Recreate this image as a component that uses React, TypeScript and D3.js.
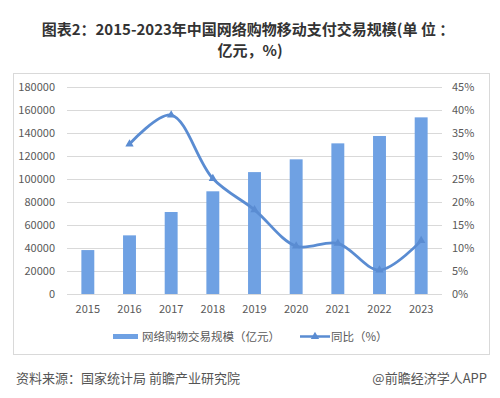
import React, { useEffect, useRef } from 'react';
import * as d3 from 'd3';

const years = ['2015', '2016', '2017', '2018', '2019', '2020', '2021', '2022', '2023'];
const scale = [38200, 51000, 71300, 89300, 106000, 117100, 131000, 137400, 153600];
const growth: (number | null)[] = [null, 32.6, 38.9, 25.1, 18.3, 10.4, 11.0, 5.2, 11.6];
const leftTicks = [0, 20000, 40000, 60000, 80000, 100000, 120000, 140000, 160000, 180000];
const rightTicks = [0, 5, 10, 15, 20, 25, 30, 35, 40, 45];

const FONT = '"Noto Sans CJK SC", "Noto Sans", sans-serif';
const BAR = '#6FA1E3';
const LINE = '#5A8CD2';
const TEXT = '#595959';

const App = () => {
  const svgRef = useRef<SVGSVGElement>(null);

  useEffect(() => {
    const svg = d3.select(svgRef.current);
    svg.selectAll('*').remove();

    const left = 67, right = 442, top = 87, bottom = 294;

    // 标题
    const title = svg.append('g').attr('font-family', FONT).attr('font-weight', 'bold')
      .attr('fill', '#333').attr('font-size', 15).attr('text-anchor', 'middle');
    title.append('text').attr('x', 248).attr('y', 35).text('图表2：2015-2023年中国网络购物移动支付交易规模(单 位 ：');
    title.append('text').attr('x', 250).attr('y', 56).text('亿元，%)');

    // 边框
    svg.append('rect').attr('x', 13.5).attr('y', 73.5).attr('width', 476).attr('height', 281)
      .attr('fill', 'white').attr('stroke', '#D9D9D9');

    const x = d3.scaleBand().domain(years).range([left, right]).paddingInner(0.69).paddingOuter(0.345);
    const yL = d3.scaleLinear().domain([0, 180000]).range([bottom, top]);
    const yR = d3.scaleLinear().domain([0, 45]).range([bottom, top]);

    // 网格线
    svg.append('g').selectAll('line').data(leftTicks).enter().append('line')
      .attr('x1', left).attr('x2', right)
      .attr('y1', d => Math.round(yL(d)) + 0.5).attr('y2', d => Math.round(yL(d)) + 0.5)
      .attr('stroke', '#D9D9D9').attr('stroke-width', 1);

    const labels = svg.append('g').attr('font-family', FONT).attr('font-size', 11).attr('fill', TEXT);

    labels.selectAll('.yl').data(leftTicks).enter().append('text')
      .attr('x', 55).attr('y', d => yL(d)).attr('dy', '0.35em').attr('text-anchor', 'end')
      .text(d => d);

    labels.selectAll('.yr').data(rightTicks).enter().append('text')
      .attr('x', 452).attr('y', d => yR(d)).attr('dy', '0.35em').attr('text-anchor', 'start')
      .text(d => `${d}%`);

    labels.selectAll('.xl').data(years).enter().append('text')
      .attr('x', d => x(d)! + x.bandwidth() / 2).attr('y', 313).attr('text-anchor', 'middle')
      .text(d => d);

    // 柱
    svg.append('g').selectAll('rect').data(years).enter().append('rect')
      .attr('x', d => x(d)!).attr('width', x.bandwidth())
      .attr('y', (d, i) => yL(scale[i])).attr('height', (d, i) => bottom - yL(scale[i]))
      .attr('fill', BAR);

    // 折线
    const pts = years.map((d, i) => ({ x: x(d)! + x.bandwidth() / 2, v: growth[i] }))
      .filter(p => p.v !== null) as { x: number; v: number }[];

    const line = d3.line<{ x: number; v: number }>()
      .x(p => p.x).y(p => yR(p.v)).curve(d3.curveCatmullRom.alpha(0.5));

    svg.append('path').attr('d', line(pts)).attr('fill', 'none')
      .attr('stroke', LINE).attr('stroke-width', 2.8);

    const tri = d3.symbol().type(d3.symbolTriangle).size(30);
    svg.append('g').selectAll('path').data(pts).enter().append('path')
      .attr('d', tri).attr('transform', p => `translate(${p.x},${yR(p.v)})`)
      .attr('fill', LINE);

    // 图例
    const lg = svg.append('g').attr('font-family', FONT).attr('font-size', 11.5).attr('fill', TEXT);
    lg.append('rect').attr('x', 113).attr('y', 334).attr('width', 25).attr('height', 5).attr('fill', BAR);
    lg.append('text').attr('x', 142).attr('y', 340.5).text('网络购物交易规模（亿元）');
    lg.append('line').attr('x1', 300).attr('x2', 330).attr('y1', 336.5).attr('y2', 336.5)
      .attr('stroke', LINE).attr('stroke-width', 2.5);
    lg.append('path').attr('d', tri).attr('transform', 'translate(315,336.5)').attr('fill', LINE);
    lg.append('text').attr('x', 331).attr('y', 340.5).text('同比（%）');

    // 来源
    const src = svg.append('g').attr('font-family', FONT).attr('font-size', 13).attr('fill', '#555');
    src.append('text').attr('x', 16).attr('y', 383).text('资料来源：国家统计局 前瞻产业研究院');
    src.append('text').attr('x', 487).attr('y', 383).attr('text-anchor', 'end').text('@前瞻经济学人APP');
  }, []);

  return (
    <div style={{ position: 'absolute', left: 0, top: 0 }}>
      <svg ref={svgRef} width={500} height={398} style={{ display: 'block', background: 'white' }} />
    </div>
  );
};

export default App;
